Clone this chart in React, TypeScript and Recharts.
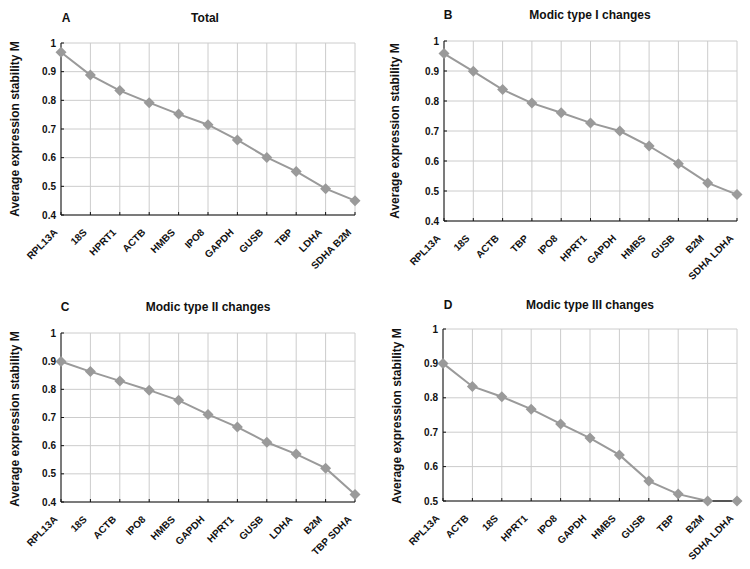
import { LineChart, Line, XAxis, YAxis, CartesianGrid } from 'recharts';

const FONT = '"Liberation Sans", Arial, sans-serif';

// Panel A - Total
const catsA = ['RPL13A', '18S', 'HPRT1', 'ACTB', 'HMBS', 'IPO8', 'GAPDH', 'GUSB', 'TBP', 'LDHA', 'SDHA B2M'];
const valsA = [0.968, 0.888, 0.834, 0.792, 0.752, 0.715, 0.662, 0.601, 0.552, 0.492, 0.45];

// Panel B - Modic type I
const catsB = ['RPL13A', '18S', 'ACTB', 'TBP', 'IPO8', 'HPRT1', 'GAPDH', 'HMBS', 'GUSB', 'B2M', 'SDHA LDHA'];
const valsB = [0.958, 0.899, 0.838, 0.793, 0.761, 0.727, 0.7, 0.65, 0.591, 0.527, 0.488];

// Panel C - Modic type II
const catsC = ['RPL13A', '18S', 'ACTB', 'IPO8', 'HMBS', 'GAPDH', 'HPRT1', 'GUSB', 'LDHA', 'B2M', 'TBP SDHA'];
const valsC = [0.899, 0.863, 0.83, 0.797, 0.761, 0.711, 0.666, 0.612, 0.57, 0.52, 0.427];

// Panel D - Modic type III
const catsD = ['RPL13A', 'ACTB', '18S', 'HPRT1', 'IPO8', 'GAPDH', 'HMBS', 'GUSB', 'TBP', 'B2M', 'SDHA LDHA'];
const valsD = [0.9, 0.833, 0.803, 0.767, 0.724, 0.683, 0.634, 0.558, 0.52, 0.5, 0.5];

const ticksLow = [0.4, 0.5, 0.6, 0.7, 0.8, 0.9, 1];
const ticksHigh = [0.5, 0.6, 0.7, 0.8, 0.9, 1];

const Diamond = ({ cx, cy }: any) => {
  if (cx == null || cy == null) return null;
  return <path d={`M${cx},${cy - 5.5} L${cx + 5.5},${cy} L${cx},${cy + 5.5} L${cx - 5.5},${cy} Z`} fill="#9a9a9a" />;
};

const XTick = ({ x, y, payload }: any) => (
  <g transform={`translate(${x - 3},${y + 18})`}>
    <text x={0} y={0} textAnchor="end" transform="rotate(-45)" fontSize={10} fontWeight="bold" fill="#111" fontFamily={FONT}>
      {payload.value}
    </text>
  </g>
);

interface PanelProps {
  left: number;
  top: number;
  height: number;
  cats: string[];
  vals: number[];
  ticks: number[];
  letter: string;
  title: string;
  margin: { top: number; right: number; bottom: number; left: number };
  letterX: number;
  titleX: number;
  titleY: number;
  ylabX: number;
  ylabY: number;
}

function Panel(p: PanelProps) {
  const data = p.cats.map((c, i) => ({ name: c, m: p.vals[i] }));
  const txt: any = { position: 'absolute', fontFamily: FONT, fontWeight: 'bold', color: '#111', whiteSpace: 'nowrap' };
  return (
    <div style={{ position: 'absolute', left: p.left, top: p.top, width: 375, height: p.height }}>
      <LineChart width={375} height={p.height} data={data} margin={{ top: p.margin.top, right: p.margin.right, bottom: 0, left: 0 }}>
        <CartesianGrid stroke="#cccccc" strokeWidth={1} />
        <XAxis
          dataKey="name"
          height={p.margin.bottom}
          stroke="#111"
          tickSize={-3}
          tickMargin={3}
          interval={0}
          tick={<XTick />}
        />
        <YAxis
          width={p.margin.left}
          domain={[p.ticks[0], 1]}
          ticks={p.ticks}
          stroke="#111"
          tickSize={-3}
          tickMargin={8}
          tickFormatter={(v: number) => (v === 1 ? '1' : v.toFixed(1))}
          tick={{ fontSize: 10, fontWeight: 'bold', fill: '#111', fontFamily: FONT }}
        />
        <Line
          type="linear"
          dataKey="m"
          stroke="#9a9a9a"
          strokeWidth={2}
          dot={<Diamond />}
          activeDot={false}
          isAnimationActive={false}
        />
      </LineChart>
      <div style={{ ...txt, fontSize: 12, left: p.letterX, top: p.titleY, transform: 'translate(-50%,-50%)' }}>{p.letter}</div>
      <div style={{ ...txt, fontSize: 12, left: p.titleX, top: p.titleY, transform: 'translate(-50%,-50%)' }}>{p.title}</div>
      <div style={{ ...txt, fontSize: 12, left: p.ylabX, top: p.ylabY, transform: 'translate(-50%,-50%) rotate(-90deg)' }}>
        Average expression stability M
      </div>
    </div>
  );
}

export default function App() {
  return (
    <div style={{ position: 'absolute', left: 0, top: 0, width: 750, height: 569, background: '#fff', overflow: 'hidden' }}>
      <Panel left={0} top={0} height={290} cats={catsA} vals={valsA} ticks={ticksLow} letter="A" title="Total"
        margin={{ top: 43, right: 20, bottom: 75, left: 61 }} letterX={66} titleX={205} titleY={18} ylabX={15} ylabY={129} />
      <Panel left={375} top={0} height={290} cats={catsB} vals={valsB} ticks={ticksLow} letter="B" title="Modic type I changes"
        margin={{ top: 41, right: 13, bottom: 69, left: 69 }} letterX={73} titleX={215} titleY={15} ylabX={20} ylabY={131} />
      <Panel left={0} top={290} height={279} cats={catsC} vals={valsC} ticks={ticksLow} letter="C" title="Modic type II changes"
        margin={{ top: 43, right: 20, bottom: 67, left: 61 }} letterX={65} titleX={208} titleY={17} ylabX={15} ylabY={129} />
      <Panel left={375} top={290} height={279} cats={catsD} vals={valsD} ticks={ticksHigh} letter="D" title="Modic type III changes"
        margin={{ top: 39, right: 13, bottom: 68, left: 68 }} letterX={73} titleX={215} titleY={15} ylabX={22} ylabY={126} />
    </div>
  );
}
